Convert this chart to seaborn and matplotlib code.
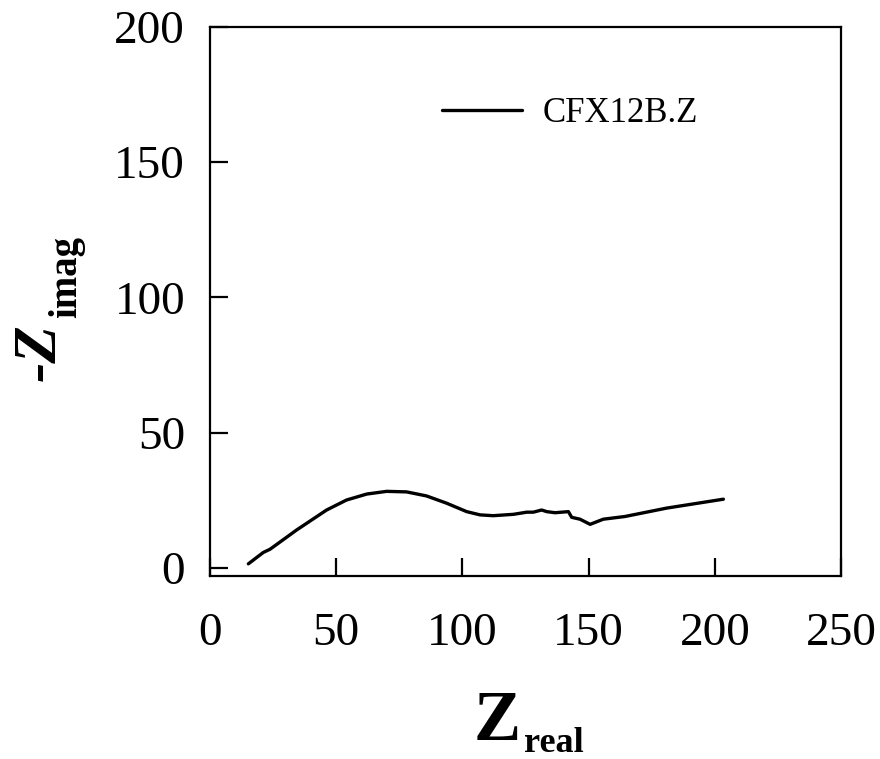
import pandas as pd
import matplotlib
matplotlib.use("Agg")
import matplotlib.pyplot as plt
import seaborn as sns

sns.set_theme(style="ticks")
plt.rcParams['font.family'] = ['Liberation Serif', 'DejaVu Serif']
plt.rcParams['text.color'] = 'black'

# Nyquist trace
z_real = [15.2, 21.1, 23.8, 34.3, 46.2, 54.1, 62.1, 70.0, 77.9, 85.8, 93.8,
          101.7, 107.0, 112.2, 120.2, 125.5, 128.1, 131.4, 133.4, 136.7, 142.0,
          143.3, 146.6, 150.6, 155.8, 164.4, 180.9, 203.4]
z_imag = [1.5, 5.7, 6.9, 14.0, 21.4, 25.1, 27.3, 28.3, 28.1, 26.6, 23.9,
          20.8, 19.6, 19.3, 19.8, 20.6, 20.6, 21.4, 20.8, 20.4, 20.8,
          18.7, 18.0, 16.1, 18.0, 19.0, 22.1, 25.4]
series_name = 'CFX12B.Z'
x_ticks = [0, 50, 100, 150, 200, 250]
y_ticks = [0, 50, 100, 150, 200]

df = pd.DataFrame({'Zreal': z_real, 'Zimag': z_imag, 'file': series_name})

W, H = 880, 759
fig = plt.figure(figsize=(W / 100, H / 100), dpi=100)
ax = fig.add_axes([210 / W, 1 - 576 / H, 631 / W, 549 / H])

sns.lineplot(data=df, x='Zreal', y='Zimag', hue='file', palette=['black'],
             sort=False, estimator=None, linewidth=2.4, ax=ax)

ax.set_xlim(0, 250)
ax.set_ylim(-3, 200)
ax.set_xticks(x_ticks)
ax.set_yticks(y_ticks)
ax.tick_params(direction='in', length=13, width=1.6, labelsize=34, colors='black')
ax.tick_params(axis='x', pad=26)
ax.tick_params(axis='y', pad=18)
for s in ax.spines.values():
    s.set_visible(True)
    s.set_linewidth(1.6)
    s.set_color('black')
ax.set_xlabel('')
ax.set_ylabel('')

# axis titles with hand-sized subscripts
def px(x, y):
    return x / W, 1 - y / H

fig.text(*px(474, 740), 'Z', fontsize=51, fontweight='bold',
         ha='left', va='baseline')
fig.text(*px(524, 752), 'real', fontsize=26, fontweight='bold',
         ha='left', va='baseline')
fig.text(*px(55, 381), '-Z', fontsize=44, fontweight='bold', style='italic',
         rotation=90, rotation_mode='anchor', ha='left', va='baseline')
fig.text(*px(76, 318), 'imag', fontsize=28, fontweight='bold',
         rotation=90, rotation_mode='anchor', ha='left', va='baseline')

ax.legend(loc='center left', bbox_to_anchor=(0.368, 0.843), frameon=False,
          fontsize=25, handlelength=2.3, handletextpad=0.6,
          borderpad=0, borderaxespad=0)

fig.savefig('out.png', dpi=100)
plt.close(fig)
